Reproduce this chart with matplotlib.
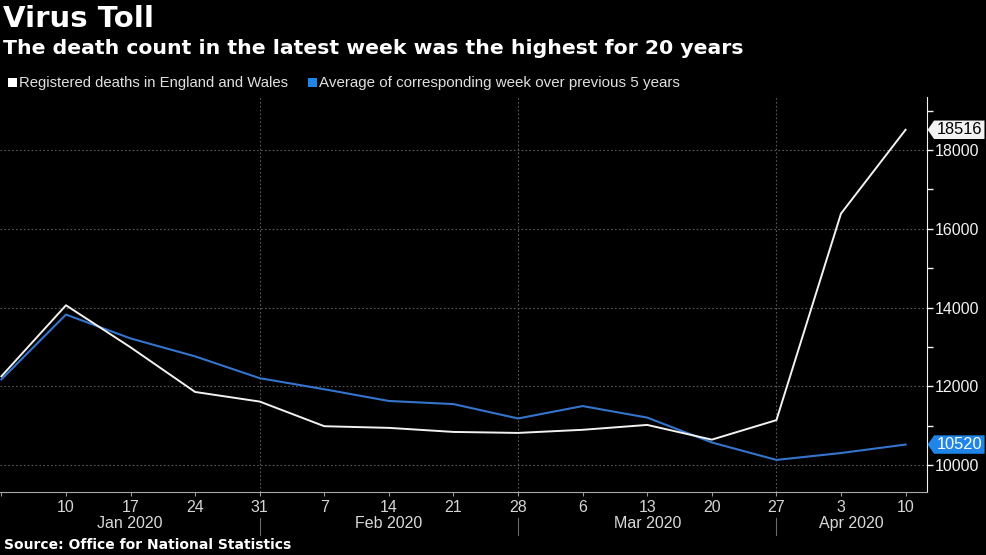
import numpy as np
import pandas as pd
import matplotlib
matplotlib.use("Agg")
import matplotlib.pyplot as plt
import matplotlib.dates as mdates
from matplotlib.path import Path
from matplotlib.patches import Rectangle
from matplotlib.ticker import MultipleLocator
from matplotlib.transforms import blended_transform_factory

# data (weekly, week ending Friday)
weeks = pd.date_range("2020-01-03", "2020-04-10", freq="7D")
registered = [12254, 14058, 12990, 11856, 11612, 10986, 10944, 10841,
              10816, 10895, 11019, 10645, 11141, 16387, 18516]
average_5yr = [12175, 13822, 13216, 12760, 12206, 11925, 11627, 11548,
               11183, 11498, 11205, 10573, 10130, 10305, 10520]
month_labels = ["Jan 2020", "Feb 2020", "Mar 2020", "Apr 2020"]
month_breaks = pd.to_datetime(["2020-01-31", "2020-02-28", "2020-03-27"])

plt.rcParams["font.family"] = ["Liberation Sans", "DejaVu Sans"]

WHITE = "#f2f2f2"
BLUE = "#3574cc"
TAG_BLUE = "#1f86e8"
GRID = "#5a5a5a"

fig = plt.figure(figsize=(9.87, 5.55), dpi=100, facecolor="black")
ax = fig.add_axes([0.0, 0.1135, 0.939, 0.7115], facecolor="black")

ax.plot(weeks, average_5yr, color=BLUE, lw=1.5, zorder=3)
ax.plot(weeks, registered, color=WHITE, lw=1.4, zorder=4)

left = weeks[0] - pd.Timedelta(days=0.15)
right = weeks[-1] + pd.Timedelta(days=2.3)
ax.set_xlim(left, right)
ax.set_ylim(9315, 19345)

# y axis on the right
ax.yaxis.tick_right()
ax.yaxis.set_major_locator(MultipleLocator(2000))
ax.yaxis.set_minor_locator(MultipleLocator(1000))
ax.tick_params(axis="y", which="both", colors=WHITE, labelsize=11.5,
               length=4, width=1, direction="out", pad=2)
ax.grid(axis="y", which="major", color=GRID, ls=(0, (1.5, 2)), lw=0.8)

# x axis: day numbers
ax.set_xticks(weeks)
ax.set_xticklabels([""] + [str(d.day) for d in weeks[1:]])
ax.tick_params(axis="x", colors="#9a9a9a", labelcolor="#d6d6d6", labelsize=11.5,
               length=3, width=0.8, pad=3)

for b in month_breaks:
    ax.axvline(b, color=GRID, ls=(0, (1.5, 2)), lw=0.8, zorder=1)

for s in ["top", "left"]:
    ax.spines[s].set_visible(False)
ax.spines["right"].set_color(WHITE)
ax.spines["bottom"].set_color("#a8a8a8")

# month labels and separators under the axis
trans = blended_transform_factory(ax.transData, ax.transAxes)
edges = [mdates.date2num(left)] + list(mdates.date2num(month_breaks)) + [mdates.date2num(right)]
for i, lab in enumerate(month_labels):
    mid = (edges[i] + edges[i + 1]) / 2
    ax.text(mid, -0.081, lab, transform=trans, ha="center", va="center",
            color="#d9d9d9", fontsize=11.5)
for b in month_breaks:
    ax.plot([b, b], [-0.066, -0.11], transform=trans, color="#6a6a6a",
            lw=0.8, clip_on=False)


# value tags on the right axis
def tag_box(x0, y0, width, height, mutation_size):
    pad = 0.15 * mutation_size
    x0, y0 = x0 - pad, y0 - pad * 0.7
    width, height = width + 2 * pad, height + 1.4 * pad
    tip = height * 0.35
    verts = [(x0 - tip, y0 + height / 2), (x0, y0), (x0 + width, y0),
             (x0 + width, y0 + height), (x0, y0 + height), (x0 - tip, y0 + height / 2)]
    return Path(verts, closed=True)


for val, fc, tc in [(registered[-1], WHITE, "black"), (average_5yr[-1], TAG_BLUE, "white")]:
    ax.annotate(str(val), xy=(1.0, val), xycoords=("axes fraction", "data"),
                xytext=(7, 0), textcoords="offset points", ha="left", va="center",
                fontsize=11.8, color=tc, annotation_clip=False,
                bbox=dict(boxstyle=tag_box, fc=fc, ec="none"))

# titles
fig.text(0.003, 0.965, "Virus Toll", color="white", fontsize=21,
         fontweight="bold", va="center", family=["DejaVu Sans"])
fig.text(0.003, 0.912, "The death count in the latest week was the highest for 20 years",
         color="white", fontsize=14.7, fontweight="bold", va="center",
         family=["DejaVu Sans"])

# legend
fig.add_artist(Rectangle((0.008, 0.843), 0.0088, 0.016, transform=fig.transFigure,
                         fc="white", ec="none"))
fig.text(0.019, 0.851, "Registered deaths in England and Wales", color="#e0e0e0",
         fontsize=10.7, va="center")
fig.add_artist(Rectangle((0.312, 0.843), 0.0088, 0.016, transform=fig.transFigure,
                         fc=TAG_BLUE, ec="none"))
fig.text(0.323, 0.851, "Average of corresponding week over previous 5 years",
         color="#e0e0e0", fontsize=10.9, va="center")

# source
fig.text(0.004, 0.018, "Source: Office for National Statistics", color="white",
         fontsize=10, fontweight="bold", va="center", family=["DejaVu Sans"])

fig.savefig("out.png", dpi=100, facecolor="black")
